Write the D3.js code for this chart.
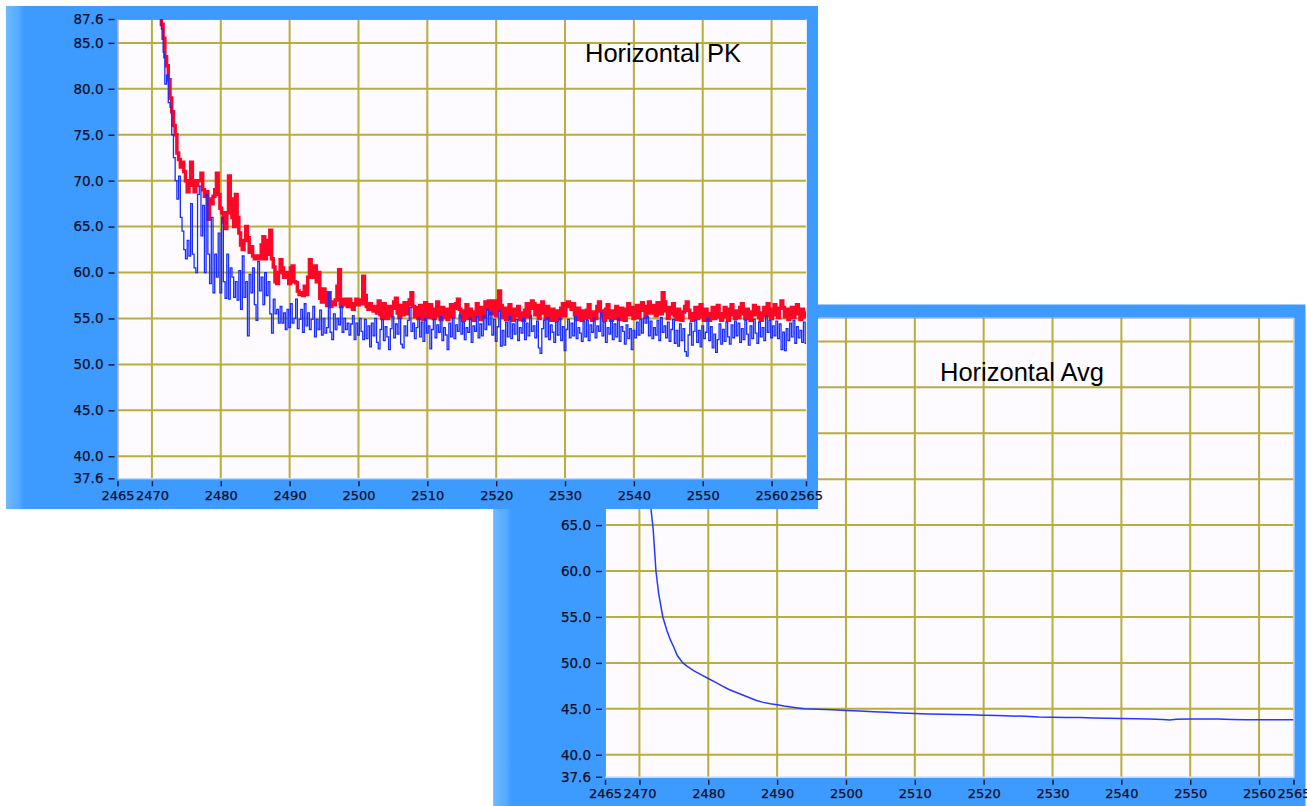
<!DOCTYPE html>
<html>
<head>
<meta charset="utf-8">
<script src="https://cdn.jsdelivr.net/npm/d3@7"></script>
<style>
  html, body { margin: 0; padding: 0; background: #ffffff; overflow: hidden; }
  svg { display: block; }
  .tick text { font-family: "DejaVu Sans", Verdana, sans-serif; fill: #0e0e26; stroke: #0e0e26; stroke-width: 0.25px; }
  .tick line { stroke: #0e0e26; }
</style>
</head>
<body>
<svg id="chart" width="1307" height="806"></svg>
<script>
// ---- axis ticks -------------------------------------------------------
const xTicks = [2465, 2470, 2480, 2490, 2500, 2510, 2520, 2530, 2540, 2550, 2560, 2565];
const xGrid  = [2470, 2480, 2490, 2500, 2510, 2520, 2530, 2540, 2550, 2560];
const yTicks = [37.6, 40, 45, 50, 55, 60, 65, 70, 75, 80, 85, 87.6];
const yGrid  = [40, 45, 50, 55, 60, 65, 70, 75, 80, 85];
const xDomain = [2465, 2565];
const yDomain = [37.6, 87.6];

// ---- peak-hold sweep (red) and live sweep (blue), sampled every 0.25 ----
const sweepStart = 2471;
const sweepStep = 0.25;
const peakRed = [
  92.0, 89.5, 87.0, 85.5, 83.5, 82.5, 81.0, 79.0,
  77.5, 76.0, 75.0, 73.0, 72.3, 71.5, 72.0, 71.0,
  70.0, 68.8, 69.5, 72.0, 70.0, 68.8, 69.5, 70.0,
  70.0, 70.8, 69.0, 68.3, 68.8, 65.8, 68.0, 67.5,
  68.3, 69.0, 70.8, 68.5, 67.0, 66.5, 65.5, 64.8,
  66.5, 70.5, 68.0, 66.0, 65.0, 68.5, 66.0, 64.3,
  63.0, 62.5, 63.5, 65.0, 63.8, 62.2, 62.8, 61.8,
  61.5, 61.8, 61.5, 61.5, 63.0, 63.9, 61.5, 62.0,
  63.5, 64.6, 61.5, 60.6, 59.0, 58.8, 60.0, 61.4,
  60.5, 59.5, 60.0, 59.6, 58.8, 60.5, 60.7, 59.0,
  58.9, 58.0, 57.6, 57.8, 57.5, 58.5, 57.6, 59.5,
  61.4, 60.0, 59.5, 60.7, 59.0, 60.0, 57.2, 56.8,
  58.2, 57.5, 56.4, 57.8, 56.3, 56.8, 56.5, 57.0,
  58.5, 60.3, 56.3, 56.9, 57.1, 56.5, 56.3, 57.1,
  56.6, 56.0, 56.6, 57.1, 56.5, 57.0, 56.6, 59.6,
  57.5, 56.3, 56.0, 56.6, 56.0, 55.8, 56.3, 55.6,
  56.9, 55.4, 55.0, 56.6, 55.9, 55.0, 56.3, 55.3,
  56.1, 56.8, 57.2, 55.6, 55.1, 56.4, 55.4, 56.7,
  55.5, 56.5, 57.0, 57.8, 56.3, 55.2, 56.2, 55.0,
  56.4, 55.6, 54.9, 56.7, 55.9, 55.1, 56.5, 55.5,
  55.0, 56.0, 56.8, 55.3, 54.9, 56.2, 55.1, 56.0,
  54.9, 55.7, 56.5, 55.2, 56.1, 56.6, 57.1, 56.0,
  55.2, 54.8, 55.8, 56.5, 55.0, 56.0, 55.3, 54.8,
  55.7, 56.6, 55.4, 54.9, 56.2, 55.2, 56.8, 56.0,
  56.9, 55.5, 56.2, 56.9, 55.3, 56.0, 58.0, 56.4,
  55.1, 56.1, 54.9, 55.8, 56.5, 55.0, 54.8, 56.0,
  55.3, 56.3, 54.9, 55.6, 54.8, 55.9, 56.6, 55.2,
  56.1, 56.9, 56.6, 55.4, 56.4, 55.0, 56.2, 56.8,
  55.6, 55.0, 56.3, 55.3, 54.8, 56.0, 55.4, 54.8,
  55.8, 55.0, 56.1, 56.6, 55.3, 56.3, 56.8, 56.5,
  56.0, 56.6, 55.4, 54.9, 56.1, 55.1, 54.8, 55.8,
  55.0, 55.9, 56.5, 55.1, 54.8, 55.7, 55.0, 56.3,
  56.8, 55.8, 55.3, 54.8, 56.0, 56.5, 55.1, 54.8,
  55.8, 55.0, 56.3, 55.4, 54.9, 56.1, 55.2, 54.8,
  56.0, 56.6, 55.4, 56.2, 55.0, 55.8, 56.4, 55.1,
  55.9, 56.7, 56.1, 55.2, 56.3, 56.8, 55.6, 56.0,
  56.4, 55.3, 56.7, 56.2, 55.5, 57.8, 56.8, 55.8,
  55.0, 56.2, 55.5, 56.6, 55.3, 54.9, 56.0, 55.4,
  54.8, 55.7, 56.3, 56.8, 55.9, 55.1, 54.8, 55.5,
  56.2, 55.0, 55.6, 56.5, 55.2, 54.8, 56.0, 55.1,
  54.8, 55.5, 56.2, 55.0, 55.8, 56.4, 55.2, 54.8,
  55.5, 56.2, 55.2, 54.8, 56.0, 56.5, 55.4, 55.0,
  55.8, 55.1, 56.2, 56.6, 55.5, 55.0, 56.0, 55.3,
  54.8, 55.7, 56.4, 55.4, 56.2, 55.1, 54.8, 55.6,
  56.2, 55.3, 56.6, 55.7, 55.0, 56.0, 56.5, 55.4,
  55.1, 56.1, 56.9, 56.2, 55.2, 56.0, 54.9, 55.5,
  56.2, 55.1, 55.7, 56.5, 55.5, 54.9, 56.0, 55.2,
  55.6
];
const liveBlue = [
  91.0, 88.5, 86.5, 84.0, 80.5, 81.5, 78.5, 78.0,
  75.0, 72.5, 70.0, 68.0, 70.5, 66.0, 64.5, 62.5,
  61.5, 63.5, 61.8, 67.5, 62.0, 60.5, 60.0, 68.5,
  69.4, 64.0, 67.3, 60.0, 68.5, 62.0, 58.8, 66.0,
  57.8, 62.0, 59.5, 64.3, 57.8, 66.0, 59.0, 57.2,
  62.0, 57.1, 60.5, 59.5, 57.3, 59.0, 57.0, 60.2,
  56.0, 61.8, 57.3, 59.0, 53.1, 59.8, 57.8, 60.5,
  56.5, 54.8, 61.2, 58.0, 59.5, 56.5, 60.0, 57.5,
  59.0, 55.5, 53.4, 57.1, 55.5, 56.0, 54.5, 56.3,
  54.5, 55.6, 53.8, 56.0, 54.0, 56.6, 54.5, 55.0,
  57.1, 53.9, 54.9, 56.0, 53.5, 56.6, 54.2, 55.6,
  53.8, 54.9, 56.3, 53.0, 54.9, 53.8, 55.9, 53.2,
  55.0, 53.4, 54.0, 57.8, 53.5, 52.7, 55.5, 53.8,
  55.0, 54.3, 56.3, 53.5, 55.0, 53.8, 54.5, 53.2,
  54.4, 55.3, 52.7, 54.5, 53.2, 55.0, 53.6, 52.7,
  54.9, 52.8, 54.2, 51.9, 54.5, 53.1, 55.0, 52.4,
  51.7, 53.8, 54.9, 52.6, 54.1, 53.0, 51.6, 53.9,
  55.2, 52.9, 54.4, 53.3, 55.0, 52.2, 51.8, 54.2,
  53.1, 54.8, 56.2, 53.6, 54.5, 52.8, 54.0, 55.1,
  53.0, 54.6, 52.5, 55.0, 53.4, 54.2, 51.7, 53.8,
  54.9, 52.9, 54.3, 53.5, 55.2, 52.6, 54.0, 53.2,
  51.6, 54.5, 53.0, 55.1, 52.8, 54.3, 53.6, 55.4,
  53.3, 54.6, 52.7, 54.0, 53.5, 55.0, 52.4, 54.2,
  53.6, 55.2, 52.9, 54.4, 53.1, 55.3, 53.8, 56.0,
  54.3, 55.7, 53.2, 54.9, 52.5, 54.1, 55.8, 52.0,
  53.7, 52.1, 54.6, 53.0, 55.2, 52.8, 54.4, 53.3,
  54.9, 52.6, 54.0, 53.4, 55.0, 52.7, 54.5, 53.1,
  55.3, 53.6, 54.2, 52.9, 54.7, 51.8, 51.2, 53.9,
  54.8, 53.0, 55.1, 52.7, 54.3, 53.5, 52.4, 54.6,
  53.2, 55.0, 52.6, 54.1, 51.5, 53.8, 54.9, 52.9,
  54.5, 53.1, 55.2, 52.8, 54.0, 53.4, 52.5, 54.7,
  53.0, 54.8, 52.6, 54.3, 53.5, 55.1, 52.9, 54.2,
  53.6, 55.6, 53.1, 54.6, 52.4, 54.0, 53.3, 54.8,
  52.7, 54.4, 53.0, 55.0, 52.5, 54.1, 53.6, 52.2,
  54.3, 52.8, 53.9, 51.6, 53.7, 52.9, 54.6, 53.2,
  54.9, 53.4, 55.0, 54.5, 55.2, 53.1, 54.7, 52.8,
  54.0, 53.2, 54.8, 52.6, 55.1, 53.5, 54.2, 52.9,
  54.6, 52.5, 53.8, 54.9, 52.3, 53.7, 52.0, 54.4,
  52.6, 53.9, 51.4, 50.9, 53.2, 54.5, 52.1, 53.6,
  54.8, 52.4, 53.7, 51.9, 54.2, 52.8, 53.5, 55.0,
  52.6, 54.1, 51.8, 53.3, 51.3, 52.7, 54.4, 52.2,
  53.8, 52.5, 54.6, 53.0, 52.2, 54.3, 52.9, 54.7,
  53.1, 54.5, 52.4, 53.9, 52.7, 54.8, 53.3, 52.1,
  54.2, 52.8, 54.9, 53.4, 52.3, 54.6, 53.0, 54.0,
  52.6, 55.3, 53.5, 54.8, 52.9, 54.2, 53.1, 54.7,
  52.8, 54.4, 51.6, 53.5, 51.5, 53.9, 52.6, 54.5,
  53.0, 54.8, 52.3, 54.1, 52.9, 53.7, 52.4, 54.6,
  52.3
];

// ---- averaged trace ------------------------------------------------------
const avgX = [2470.5, 2471.0, 2471.5, 2472.0, 2472.4, 2472.8, 2473.4, 2474.0, 2474.5, 2475.0,
  2475.5, 2476.3, 2477, 2478, 2479, 2480, 2481, 2482, 2483, 2484, 2485, 2486, 2487, 2488,
  2489, 2490, 2491, 2492, 2493, 2494, 2495, 2496, 2498, 2500, 2502, 2504, 2506, 2508, 2510,
  2512, 2514, 2516, 2518, 2520, 2522, 2524, 2526, 2528, 2530, 2532, 2534, 2536, 2538, 2540,
  2542, 2544, 2546, 2547, 2548, 2550, 2552, 2554, 2556, 2558, 2560, 2562, 2564, 2565];
const avgY = [95.0, 80.0, 68.0, 64.5, 60.0, 57.5, 55.0, 53.5, 52.5, 51.7,
  50.8, 50.0, 49.6, 49.1, 48.7, 48.3, 47.9, 47.5, 47.1, 46.8, 46.5, 46.2, 45.9, 45.7,
  45.55, 45.45, 45.3, 45.2, 45.1, 45.0, 44.98, 44.95, 44.9, 44.82, 44.75, 44.68, 44.62, 44.55, 44.5,
  44.45, 44.42, 44.38, 44.35, 44.3, 44.28, 44.22, 44.18, 44.1, 44.08, 44.05, 44.05, 44.0, 43.98, 43.95,
  43.93, 43.9, 43.85, 43.78, 43.86, 43.9, 43.9, 43.88, 43.85, 43.8, 43.82, 43.8, 43.82, 43.8];

// ---- layout -------------------------------------------------------------
const FRAME_W = 812, FRAME_H = 503;
const PLOT_DX = 111.5, PLOT_DY = 13;   // plot offset inside the frame
const PLOT_W = 688.5, PLOT_H = 459.3;

const svg = d3.select("#chart");
const defs = svg.append("defs");

const grad = defs.append("linearGradient").attr("id", "edgeGlow")
  .attr("x1", "0").attr("x2", "1").attr("y1", "0").attr("y2", "0");
grad.append("stop").attr("offset", "0").attr("stop-color", "#6cb9ff");
grad.append("stop").attr("offset", "0.7").attr("stop-color", "#55abff");
grad.append("stop").attr("offset", "1").attr("stop-color", "#3d9bff");

function sweepPoints(values) {
  return values.map((v, i) => [sweepStart + i * sweepStep, v]);
}

function drawPanel(opt) {
  const g = svg.append("g").attr("transform", `translate(${opt.fx},${opt.fy})`);
  // blue frame
  g.append("rect").attr("width", FRAME_W).attr("height", FRAME_H).attr("fill", "#3d9bff");
  g.append("rect").attr("width", 18).attr("height", FRAME_H).attr("fill", "url(#edgeGlow)");

  const p = g.append("g").attr("transform", `translate(${PLOT_DX},${PLOT_DY})`);
  const x = d3.scaleLinear().domain(xDomain).range([0, PLOT_W]);
  const y = d3.scaleLinear().domain(yDomain).range([PLOT_H, 0]);

  p.append("rect").attr("width", PLOT_W).attr("height", PLOT_H).attr("fill", "#fdfbff");

  const clipId = "clip-" + opt.id;
  defs.append("clipPath").attr("id", clipId)
    .append("rect").attr("width", PLOT_W).attr("height", PLOT_H);

  // grid
  const grid = p.append("g").attr("stroke", "#b9ad3c").attr("stroke-width", 2);
  grid.selectAll("line.v").data(xGrid).join("line").attr("class", "v")
    .attr("x1", d => x(d)).attr("x2", d => x(d)).attr("y1", 0).attr("y2", PLOT_H);
  grid.selectAll("line.h").data(yGrid).join("line").attr("class", "h")
    .attr("x1", 0).attr("x2", PLOT_W).attr("y1", d => y(d)).attr("y2", d => y(d));

  // inset edge
  p.append("path").attr("d", `M0.5,${PLOT_H} V0.5 H${PLOT_W}`)
    .attr("fill", "none").attr("stroke", "#8f8f98").attr("stroke-width", 1);
  p.append("path").attr("d", `M0.5,${PLOT_H + 0.5} H${PLOT_W + 0.5} V0.5`)
    .attr("fill", "none").attr("stroke", "#e6e9f5").attr("stroke-width", 1);

  // traces, drawn as sample-and-hold steps
  const traces = p.append("g").attr("clip-path", `url(#${clipId})`);
  opt.series.forEach(s => {
    const line = d3.line().x(d => x(d[0])).y(d => y(d[1]))
      .curve(s.step ? d3.curveStep : d3.curveLinear);
    traces.append("path").datum(s.points)
      .attr("fill", "none").attr("stroke", s.color)
      .attr("stroke-width", s.width).attr("stroke-linejoin", "miter")
      .attr("d", line);
  });

  // axes
  const yAxis = d3.axisLeft(y).tickValues(yTicks).tickFormat(d3.format(".1f"))
    .tickSize(6).tickSizeOuter(0).tickPadding(5);
  const ya = p.append("g").attr("transform", "translate(-3,0)").call(yAxis);
  ya.select(".domain").remove();
  ya.selectAll("text").style("font-size", "13.5px");
  ya.selectAll("line").attr("stroke-width", 1.4);

  const xAxis = d3.axisBottom(x).tickValues(xTicks).tickFormat(d3.format("d"))
    .tickSize(5).tickSizeOuter(0).tickPadding(4);
  const xa = p.append("g").attr("transform", `translate(0,${PLOT_H + 3})`).call(xAxis);
  xa.select(".domain").remove();
  xa.selectAll("text").style("font-size", "13px");
  xa.selectAll("line").attr("stroke-width", 1.4);

  // title
  p.append("text").attr("x", opt.titleX).attr("y", opt.titleY)
    .attr("font-family", "'Liberation Sans', Arial, sans-serif")
    .attr("font-size", 25.5).attr("fill", "#000").text(opt.title);
}

// averaged sweep sits behind the peak sweep window
drawPanel({
  id: "avg", fx: 493.5, fy: 304.5,
  title: "Horizontal Avg", titleX: 335, titleY: 63.5,
  series: [
    { points: avgX.map((v, i) => [v, avgY[i]]), color: "#2438ff", width: 1.5, step: false }
  ]
});

drawPanel({
  id: "pk", fx: 6, fy: 6,
  title: "Horizontal PK", titleX: 467.5, titleY: 43,
  series: [
    { points: sweepPoints(peakRed), color: "#ff0526", width: 3.5, step: true },
    { points: sweepPoints(liveBlue), color: "#1a2cff", width: 1.3, step: true }
  ]
});
</script>
</body>
</html>
